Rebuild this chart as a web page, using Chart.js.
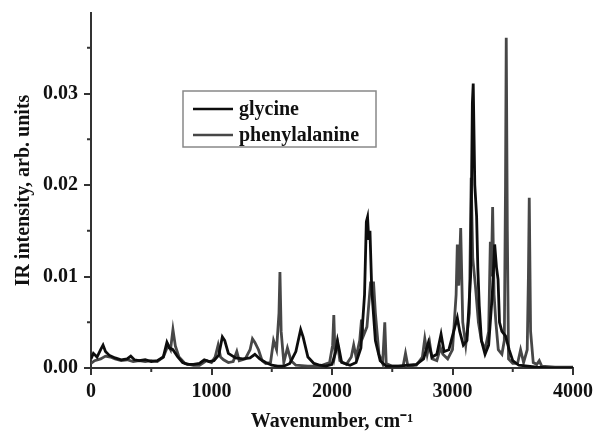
<!DOCTYPE html>
<html>
<head>
<meta charset="utf-8">
<script src="https://cdn.jsdelivr.net/npm/chart.js@4.4.0/dist/chart.umd.min.js"></script>
<style>
  html, body { margin: 0; padding: 0; background: #fff; }
  #wrap { width: 594px; height: 437px; }
</style>
</head>
<body>
<div id="wrap"><canvas id="irChart" width="594" height="437"></canvas></div>
<script>
// wavenumber (cm-1) and intensity
let glyX = [0,20,50,80,100,120,150,200,250,300,330,360,400,450,500,550,600,630,650,680,720,760,800,850,900,940,980,1020,1060,1090,1110,1140,1200,1260,1320,1360,1400,1450,1500,1550,1600,1650,1700,1740,1760,1800,1850,1900,1950,2000,2030,2045,2060,2080,2150,2200,2240,2270,2285,2295,2305,2315,2330,2360,2400,2450,2550,2700,2760,2800,2830,2870,2905,2930,2970,3000,3040,3060,3090,3120,3150,3165,3172,3185,3200,3210,3222,3240,3270,3300,3330,3350,3365,3378,3390,3410,3440,3470,3500,3550,3700,3800,4000];
let glyY = [0.0010,0.0016,0.0012,0.0020,0.0025,0.0018,0.0014,0.0011,0.0009,0.0010,0.0013,0.0009,0.0008,0.0009,0.0007,0.0008,0.0012,0.0028,0.0022,0.0020,0.0012,0.0006,0.0004,0.0004,0.0005,0.0009,0.0007,0.0008,0.0014,0.0034,0.0030,0.0016,0.0011,0.0010,0.0011,0.0015,0.0010,0.0006,0.0003,0.0002,0.0002,0.0005,0.0018,0.0042,0.0034,0.0012,0.0005,0.0003,0.0002,0.0004,0.0018,0.0030,0.0020,0.0006,0.0003,0.0006,0.0022,0.0080,0.0160,0.0165,0.0140,0.0150,0.0085,0.0030,0.0008,0.0002,0.0002,0.0004,0.0010,0.0028,0.0012,0.0015,0.0037,0.0018,0.0020,0.0035,0.0055,0.0040,0.0025,0.0030,0.0100,0.0290,0.0311,0.0200,0.0166,0.0110,0.0068,0.0030,0.0015,0.0025,0.0080,0.0135,0.0110,0.0097,0.0050,0.0040,0.0035,0.0020,0.0008,0.0003,0.0001,0.0000,0.0000];

let pheX = [0,30,80,120,160,200,250,300,350,400,450,500,550,600,640,660,680,700,730,780,850,900,960,1000,1030,1055,1075,1100,1140,1180,1210,1230,1280,1320,1340,1360,1390,1420,1450,1490,1515,1540,1560,1568,1578,1600,1630,1660,1700,1800,1900,1980,2005,2015,2025,2045,2065,2120,2160,2180,2200,2230,2245,2260,2290,2320,2345,2360,2370,2390,2420,2438,2450,2500,2590,2610,2630,2700,2750,2770,2790,2810,2830,2870,2900,2920,2960,3000,3030,3040,3052,3068,3085,3110,3140,3155,3168,3190,3215,3240,3270,3300,3314,3322,3333,3345,3360,3380,3410,3430,3440,3446,3455,3465,3500,3540,3565,3590,3620,3630,3637,3648,3670,3700,3720,3740,3850,4000];
let pheY = [0.0005,0.0008,0.0010,0.0013,0.0012,0.0010,0.0008,0.0009,0.0007,0.0008,0.0007,0.0008,0.0007,0.0012,0.0025,0.0020,0.0042,0.0024,0.0012,0.0005,0.0003,0.0003,0.0008,0.0006,0.0012,0.0025,0.0012,0.0009,0.0006,0.0007,0.0018,0.0008,0.0010,0.0020,0.0032,0.0028,0.0020,0.0008,0.0005,0.0006,0.0030,0.0020,0.0060,0.0105,0.0040,0.0006,0.0022,0.0008,0.0003,0.0002,0.0002,0.0006,0.0025,0.0058,0.0015,0.0028,0.0008,0.0004,0.0012,0.0025,0.0012,0.0030,0.0053,0.0035,0.0045,0.0093,0.0093,0.0060,0.0045,0.0015,0.0005,0.0050,0.0005,0.0002,0.0002,0.0016,0.0002,0.0003,0.0012,0.0032,0.0015,0.0028,0.0010,0.0008,0.0022,0.0015,0.0010,0.0020,0.0080,0.0135,0.0090,0.0153,0.0050,0.0025,0.0060,0.0208,0.0120,0.0090,0.0050,0.0030,0.0020,0.0040,0.0138,0.0100,0.0176,0.0080,0.0050,0.0020,0.0015,0.0030,0.0200,0.0361,0.0150,0.0010,0.0005,0.0005,0.0020,0.0006,0.0020,0.0100,0.0186,0.0040,0.0006,0.0004,0.0008,0.0002,0.0001,0.0001];

let xMajorTicks = [0, 1000, 2000, 3000, 4000];
let yMajorTicks = [0, 0.01, 0.02, 0.03];
let xMinorTicks = [500, 1500, 2500, 3500];
let yMinorTicks = [0.005, 0.015, 0.025, 0.035];

const serif = "'Liberation Serif', 'Times New Roman', serif";
const axisColor = "#333";

function toPoints(xs, ys) {
    return xs.map((x, i) => ({ x: x, y: ys[i] }));
}

// minor ticks + legend box drawn by hand
const extras = {
    id: "extras",
    afterDraw(chart) {
        let ctx = chart.ctx;
        let xs = chart.scales.x, ys = chart.scales.y;
        ctx.save();
        ctx.strokeStyle = axisColor;
        ctx.lineWidth = 2;
        xMinorTicks.forEach(v => {
            let px = xs.getPixelForValue(v);
            ctx.beginPath();
            ctx.moveTo(px, ys.bottom);
            ctx.lineTo(px, ys.bottom + 4);
            ctx.stroke();
        });
        yMinorTicks.forEach(v => {
            let py = ys.getPixelForValue(v);
            ctx.beginPath();
            ctx.moveTo(xs.left, py);
            ctx.lineTo(xs.left - 4, py);
            ctx.stroke();
        });

        // legend
        let bx = 183, by = 91, bw = 193, bh = 56;
        ctx.fillStyle = "#fff";
        ctx.fillRect(bx, by, bw, bh);
        ctx.strokeStyle = "#888";
        ctx.lineWidth = 1.5;
        ctx.strokeRect(bx, by, bw, bh);
        ctx.font = "bold 20px " + serif;
        ctx.textBaseline = "middle";
        chart.data.datasets.forEach((ds, i) => {
            let ly = by + 18 + i * 26;
            ctx.strokeStyle = ds.borderColor;
            ctx.lineWidth = 2.5;
            ctx.beginPath();
            ctx.moveTo(bx + 10, ly);
            ctx.lineTo(bx + 50, ly);
            ctx.stroke();
            ctx.fillStyle = "#111";
            ctx.fillText(ds.label, bx + 56, ly + 1);
        });
        ctx.restore();
    }
};

let ctx = document.getElementById("irChart").getContext("2d");
let chartInstance = new Chart(ctx, {
    type: "line",
    data: {
        datasets: [
            {
                label: "glycine",
                data: toPoints(glyX, glyY),
                borderColor: "#0d0d0d",
                borderWidth: 2.8,
                pointRadius: 0,
                tension: 0,
                fill: false
            },
            {
                label: "phenylalanine",
                data: toPoints(pheX, pheY),
                borderColor: "#474747",
                borderWidth: 2.8,
                pointRadius: 0,
                tension: 0,
                fill: false
            }
        ]
    },
    options: {
        responsive: false,
        animation: false,
        layout: { padding: { top: 13, right: 21, bottom: 3, left: 12 } },
        plugins: {
            legend: { display: false },
            tooltip: { enabled: false }
        },
        scales: {
            x: {
                type: "linear",
                min: 0,
                max: 4000,
                afterBuildTicks(scale) {
                    scale.ticks = xMajorTicks.map(v => ({ value: v }));
                },
                afterFit(scale) {
                    scale.paddingRight = 0;
                    scale.paddingLeft = 0;
                },
                ticks: {
                    padding: 5,
                    color: "#111",
                    font: { family: serif, size: 20, weight: "bold" },
                    callback: v => String(v)
                },
                grid: { drawOnChartArea: false, drawTicks: true, tickLength: 7, color: axisColor, lineWidth: 2 },
                border: { display: true, color: axisColor, width: 2 },
                title: {
                    display: true,
                    text: "Wavenumber, cm\u207B\u00B9",
                    color: "#111",
                    padding: { top: 1, bottom: 0 },
                    font: { family: serif, size: 20, weight: "bold" }
                }
            },
            y: {
                min: 0,
                max: 0.0388,
                afterBuildTicks(scale) {
                    scale.ticks = yMajorTicks.map(v => ({ value: v }));
                },
                afterFit(scale) {
                    scale.paddingTop = 0;
                    scale.paddingBottom = 0;
                },
                ticks: {
                    padding: 6,
                    color: "#111",
                    font: { family: serif, size: 20, weight: "bold" },
                    callback: v => v.toFixed(2)
                },
                grid: { drawOnChartArea: false, drawTicks: true, tickLength: 7, color: axisColor, lineWidth: 2 },
                border: { display: true, color: axisColor, width: 2 },
                title: {
                    display: true,
                    text: "IR intensity, arb. units",
                    color: "#111",
                    padding: { top: 0, bottom: 1 },
                    font: { family: serif, size: 20, weight: "bold" }
                }
            }
        }
    },
    plugins: [extras]
});
</script>
</body>
</html>
